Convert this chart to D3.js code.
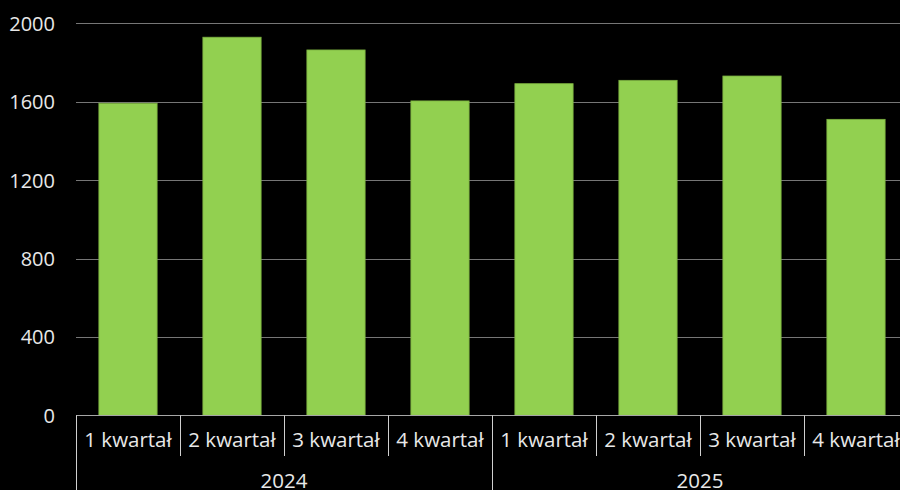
<!DOCTYPE html>
<html>
<head>
<meta charset="utf-8">
<script src="https://cdn.jsdelivr.net/npm/d3@7"></script>
<style>
  html, body { margin: 0; padding: 0; background: #000; overflow: hidden; }
  svg { display: block; }
</style>
</head>
<body>
<svg id="chart" width="900" height="490"></svg>
<script>
const quarters = ["1 kwartał", "2 kwartał", "3 kwartał", "4 kwartał", "1 kwartał", "2 kwartał", "3 kwartał", "4 kwartał"];
const years = ["2024", "2025"];
const values = [1592, 1929, 1864, 1604, 1692, 1709, 1731, 1510];
const yTicks = [0, 400, 800, 1200, 1600, 2000];

const svg = d3.select("#chart");
const W = 900, H = 490;
const plotLeft = 76, plotRight = 908, plotTop = 23.3, plotBottom = 415.3;
const font = "'Open Sans', 'Noto Sans', sans-serif";
const textColor = "#e8e8e8";

const ids = quarters.map((q, i) => i);
const x = d3.scaleBand().domain(ids).range([plotLeft, plotRight]).paddingInner(0.44).paddingOuter(0.22);
const y = d3.scaleLinear().domain([0, 2000]).range([plotBottom, plotTop]);

// gridlines
svg.append("g").selectAll("line").data(yTicks.filter(t => t > 0)).join("line")
  .attr("x1", plotLeft).attr("x2", W)
  .attr("y1", d => Math.round(y(d)) + 0.5).attr("y2", d => Math.round(y(d)) + 0.5)
  .attr("stroke", "#767676").attr("stroke-width", 1);

// y axis labels
const yAxis = d3.axisLeft(y).tickValues(yTicks).tickSize(0).tickPadding(0).tickFormat(d3.format("d"));
const ya = svg.append("g").attr("transform", `translate(55,0)`).call(yAxis);
ya.select(".domain").remove();
ya.selectAll("text").attr("fill", textColor).attr("font-family", font).attr("font-size", 20).attr("dy", "0.35em");

// bars
svg.append("g").selectAll("rect").data(values).join("rect")
  .attr("x", (d, i) => x(i))
  .attr("width", x.bandwidth())
  .attr("y", d => y(d))
  .attr("height", d => y(0) - y(d))
  .attr("fill", "#92d050")
  .attr("stroke", "#7aae3f").attr("stroke-width", 0.8);

// category axis line
svg.append("line").attr("x1", plotLeft).attr("x2", W)
  .attr("y1", Math.round(plotBottom) + 0.5).attr("y2", Math.round(plotBottom) + 0.5)
  .attr("stroke", "#a6a6a6").attr("stroke-width", 1.2);

// quarter separators
const step = x.step();
const sepX = d3.range(quarters.length + 1).map(i => plotLeft + i * step);
svg.append("g").selectAll("line").data(sepX).join("line")
  .attr("x1", d => Math.round(d) + 0.5).attr("x2", d => Math.round(d) + 0.5)
  .attr("y1", plotBottom).attr("y2", (d, i) => (i % 4 === 0) ? H : 456)
  .attr("stroke", "#d0d0d0").attr("stroke-width", 1);

// quarter labels
svg.append("g").selectAll("text").data(quarters).join("text")
  .attr("x", (d, i) => plotLeft + (i + 0.5) * step)
  .attr("y", 447)
  .attr("text-anchor", "middle")
  .attr("fill", textColor).attr("font-family", font).attr("font-size", 20.5)
  .text(d => d);

// year labels
svg.append("g").selectAll("text").data(years).join("text")
  .attr("x", (d, i) => plotLeft + (i * 4 + 2) * step)
  .attr("y", 488)
  .attr("text-anchor", "middle")
  .attr("fill", textColor).attr("font-family", font).attr("font-size", 20.5)
  .text(d => d);
</script>
</body>
</html>
